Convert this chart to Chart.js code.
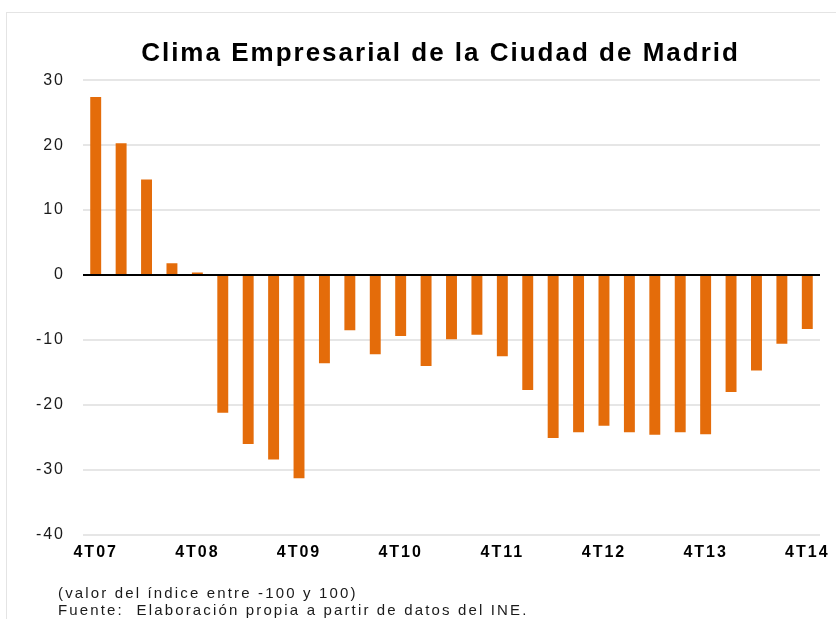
<!DOCTYPE html>
<html lang="es">
<head>
    <meta charset="UTF-8">
    <title>Clima Empresarial de la Ciudad de Madrid</title>
    <script src="https://cdn.jsdelivr.net/npm/chart.js"></script>
    <style>
        body {
            margin: 0;
            background: #fff;
            font-family: 'Liberation Sans', Arial, sans-serif;
        }
        .wrap {
            position: relative;
            width: 836px;
            height: 619px;
            overflow: hidden;
        }
        .frame {
            position: absolute;
            left: 6px;
            top: 12px;
            width: 840px;
            height: 620px;
            border: 1px solid #e4e4e4;
        }
        canvas {
            position: absolute;
            left: 0;
            top: 0;
        }
        .notes {
            position: absolute;
            left: 58px;
            top: 584px;
            font-size: 15px;
            line-height: 17px;
            color: #1a1a1a;
            letter-spacing: 2.15px;
            white-space: pre;
        }
    </style>
</head>
<body>
    <div class="wrap">
        <div class="frame"></div>
        <canvas id="chart" width="836" height="619"></canvas>
        <div class="notes">(valor del índice entre -100 y 100)
Fuente:  Elaboración propia a partir de datos del INE.</div>
    </div>

    <script>
        // trimestres 4T07 .. 4T14
        const quarters = [
            '4T07', '1T08', '2T08', '3T08', '4T08', '1T09', '2T09', '3T09', '4T09',
            '1T10', '2T10', '3T10', '4T10', '1T11', '2T11', '3T11', '4T11',
            '1T12', '2T12', '3T12', '4T12', '1T13', '2T13', '3T13', '4T13',
            '1T14', '2T14', '3T14', '4T14'
        ];
        // indice de clima empresarial
        const clima = [
            27.4, 20.3, 14.7, 1.8, 0.4, -21.2, -26.0, -28.4, -31.3,
            -13.6, -8.5, -12.2, -9.4, -14.0, -9.9, -9.2, -12.5,
            -17.7, -25.1, -24.2, -23.2, -24.2, -24.6, -24.2, -24.5,
            -18.0, -14.7, -10.6, -8.3
        ];
        const yTicks = [30, 20, 10, 0, -10, -20, -30, -40];

        // stretch text a little, the original glyphs are wide
        const textSpacing = {
            id: 'textSpacing',
            beforeDraw(chart) {
                chart.ctx.letterSpacing = '2px';
            }
        };

        // the title sits a bit left of the plot centre in the original
        const titleShift = {
            id: 'titleShift',
            afterLayout(chart) {
                const t = chart.titleBlock;
                if (t) { t.left -= 11; t.right -= 11; }
            }
        };

        // black axis line at zero, on top of the bars
        const zeroLine = {
            id: 'zeroLine',
            afterDatasetsDraw(chart) {
                const { ctx, chartArea, scales } = chart;
                const y = scales.y.getPixelForValue(0);
                ctx.save();
                ctx.strokeStyle = '#000';
                ctx.lineWidth = 2;
                ctx.beginPath();
                ctx.moveTo(chartArea.left, y);
                ctx.lineTo(chartArea.right, y);
                ctx.stroke();
                ctx.restore();
            }
        };

        new Chart(document.getElementById('chart'), {
            type: 'bar',
            data: {
                labels: quarters,
                datasets: [{
                    data: clima,
                    backgroundColor: '#E46C0A',
                    barPercentage: 0.43,
                    categoryPercentage: 1
                }]
            },
            options: {
                responsive: false,
                animation: false,
                layout: { padding: { left: 0, right: 16, top: 0, bottom: 49 } },
                plugins: {
                    legend: { display: false },
                    tooltip: { enabled: false },
                    title: {
                        display: true,
                        fullSize: false,
                        text: 'Clima Empresarial de la Ciudad de Madrid',
                        color: '#000',
                        font: { family: 'Liberation Sans', size: 26, weight: 'bold' },
                        padding: { top: 38, bottom: 11 }
                    }
                },
                scales: {
                    x: {
                        grid: { display: false, drawTicks: false },
                        border: { display: false },
                        ticks: {
                            autoSkip: false,
                            maxRotation: 0,
                            padding: 8,
                            color: '#000',
                            font: { family: 'Liberation Sans', size: 16, weight: 'bold' },
                            callback: (v, i) => quarters[i].startsWith('4T') ? quarters[i] : ''
                        }
                    },
                    y: {
                        min: -40,
                        max: 30,
                        afterFit: s => { s.width = 83; },
                        afterBuildTicks: s => { s.ticks = yTicks.map(v => ({ value: v })); },
                        border: { display: false },
                        grid: {
                            drawTicks: false,
                            lineWidth: 2,
                            color: c => c.tick && c.tick.value === 0 ? 'rgba(0,0,0,0)' : '#e6e6e6'
                        },
                        ticks: {
                            padding: 18,
                            color: '#1a1a1a',
                            font: { family: 'Liberation Sans', size: 16 }
                        }
                    }
                }
            },
            plugins: [textSpacing, titleShift, zeroLine]
        });
    </script>
</body>
</html>
